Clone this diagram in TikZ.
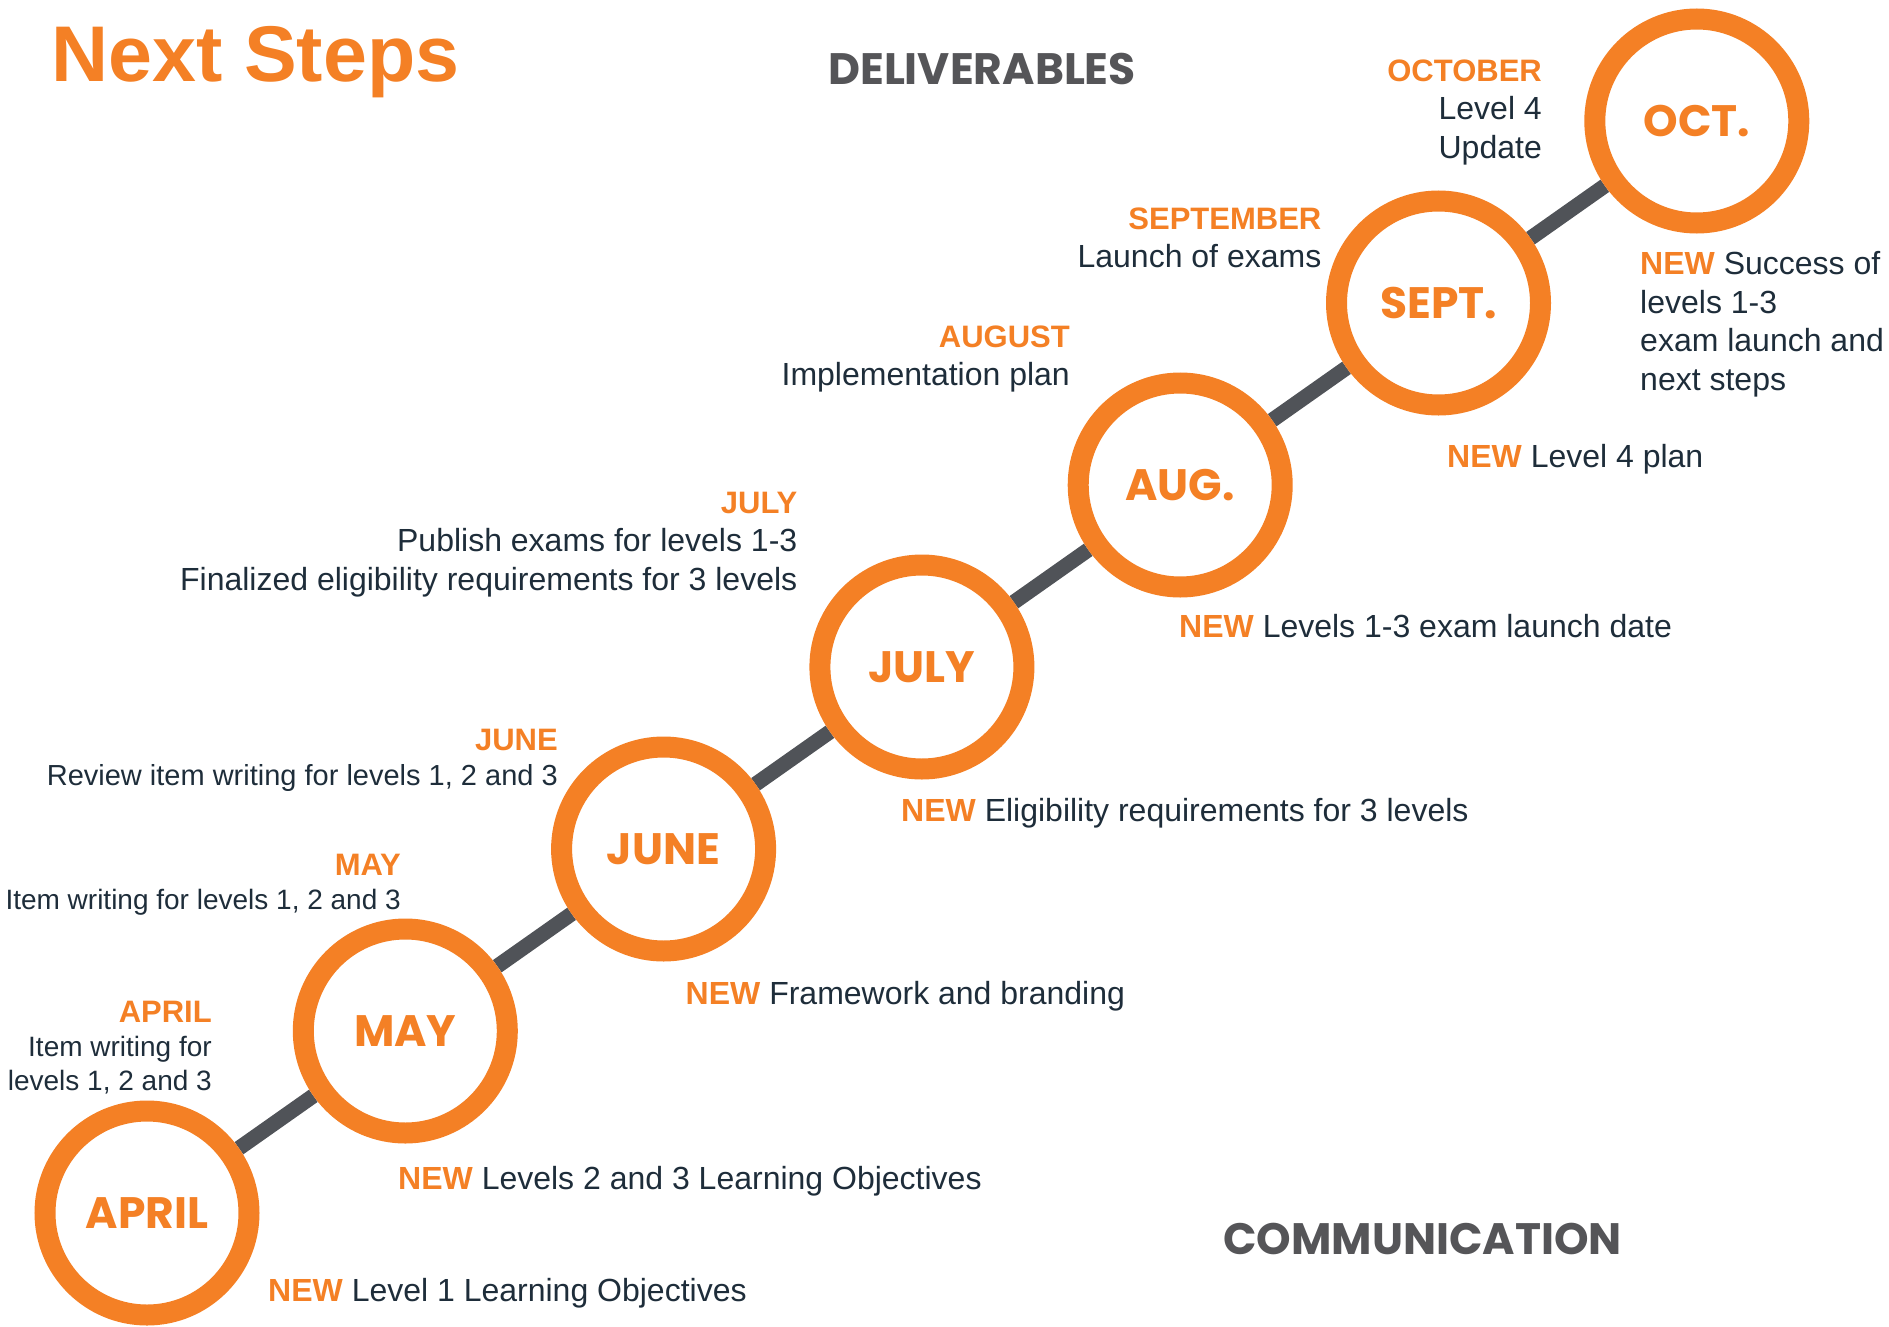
\documentclass[tikz,border=0pt]{standalone}
\usepackage{fontspec}
\setmainfont{Liberation Sans}
\newfontfamily\geoFont{Poppins}
\usetikzlibrary{backgrounds}
\definecolor{ringColor}{RGB}{244,128,37}
\definecolor{textColor}{RGB}{30,45,58}
\definecolor{headColor}{RGB}{85,85,88}
\definecolor{spineColor}{RGB}{80,83,88}
\tikzstyle{timeline} = [x = 1pt, y = -1pt]
\tikzstyle{monthRing} = [circle, draw=ringColor, line width=21pt, fill=white, minimum size=204pt, inner sep=0pt, text=ringColor, font=\geoFont\bfseries\fontsize{44}{44}\selectfont]
\tikzstyle{spineLine} = [color=spineColor, line width=15pt]
\tikzstyle{delivText} = [anchor=base east, align=right, inner sep=0pt, text=textColor, font=\fontsize{32}{38.5}\selectfont]
\tikzstyle{delivSmall} = [delivText, font=\fontsize{28}{34}\selectfont]
\tikzstyle{commText} = [anchor=base west, align=left, inner sep=0pt, text=textColor, font=\fontsize{32}{38.5}\selectfont]
\tikzstyle{sectionHead} = [anchor=base west, inner sep=0pt, text=headColor, font=\geoFont\bfseries\fontsize{44}{44}\selectfont]
\tikzstyle{titleText} = [anchor=base west, inner sep=0pt, text=ringColor, font=\bfseries\fontsize{79}{79}\selectfont]
\newcommand{\monthHead}[1]{{\color{ringColor}\bfseries\fontsize{31}{38}\selectfont #1}}
\newcommand{\newTag}{{\color{ringColor}\bfseries NEW}}

\begin{document}
\begin{tikzpicture}[timeline]
  \useasboundingbox (0,0) rectangle (1889,1327);

  \node[titleText] (title) at (51,82) {Next Steps};
  \node[sectionHead] (delivHead) at (828,85) {DELIVERABLES};
  \node[sectionHead] (commHead) at (1223,1254) {COMMUNICATION};

  \foreach \ringName/\monthName [count=\i from 0] in {apr/APRIL, may/MAY, jun/JUNE, jul/JULY, aug/AUG., sep/SEPT., oct/OCT.} {
    \node[monthRing] (\ringName) at (147 + 258.3*\i, 1213 - 182*\i) {\monthName};
  }
  \begin{scope}[on background layer]
    \foreach \from/\to in {apr/may, may/jun, jun/jul, jul/aug, aug/sep, sep/oct}
      \draw[spineLine] (\from) -- (\to);
  \end{scope}

  % deliverables (placed at the baseline of the last line)
  \node[delivSmall] (aprText) at (212,1090) {\monthHead{APRIL}\\Item writing for\\levels 1, 2 and 3};
  \node[delivSmall] (mayText) at (401,909.5) {\monthHead{MAY}\\Item writing for levels 1, 2 and 3};
  \node[delivSmall, font=\fontsize{29}{35}\selectfont] (junText) at (558,785.5) {\monthHead{JUNE}\\Review item writing for levels 1, 2 and 3};
  \node[delivText] (julText) at (797.5,590) {\monthHead{JULY}\\Publish exams for levels 1-3\\Finalized eligibility requirements for 3 levels};
  \node[delivText] (augText) at (1070,385.5) {\monthHead{AUGUST}\\Implementation plan};
  \node[delivText] (sepText) at (1321.5,267.5) {\monthHead{SEPTEMBER}\\Launch of exams};
  \node[delivText] (octText) at (1542,158) {\monthHead{OCTOBER}\\Level 4\\Update};

  % communication
  \node[commText] (aprNew) at (268,1301) {\newTag{} Level 1 Learning Objectives};
  \node[commText] (mayNew) at (398,1189.5) {\newTag{} Levels 2 and 3 Learning Objectives};
  \node[commText] (junNew) at (685.5,1004.7) {\newTag{} Framework and branding};
  \node[commText] (julNew) at (901,821.6) {\newTag{} Eligibility requirements for 3 levels};
  \node[commText] (augNew) at (1179,637) {\newTag{} Levels 1-3 exam launch date};
  \node[commText] (sepNew) at (1447,467.4) {\newTag{} Level 4 plan};
  \node[commText] (octNew) at (1640,390.2) {\newTag{} Success of\\levels 1-3\\exam launch and\\next steps};
\end{tikzpicture}
\end{document}
